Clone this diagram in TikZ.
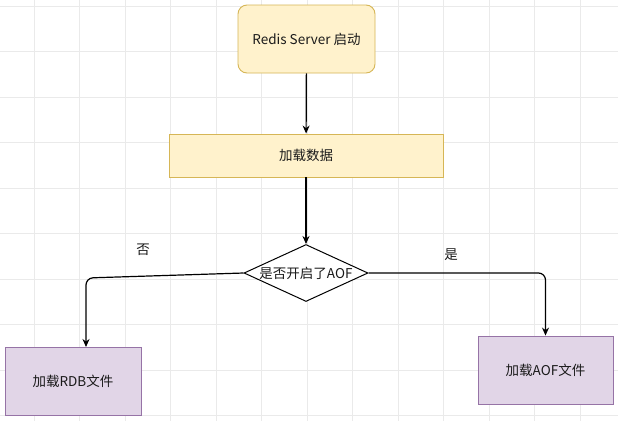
\documentclass[tikz,border=0pt]{standalone}
\usepackage{fontspec}
\setmainfont{Noto Sans CJK SC}
\usetikzlibrary{shapes.geometric,arrows.meta}
\definecolor{yfill}{HTML}{FFF2CC}
\definecolor{ydraw}{HTML}{D6B656}
\definecolor{pfill}{HTML}{E1D5E7}
\definecolor{pdraw}{HTML}{9673A6}
\definecolor{gridc}{HTML}{EAEAEA}
\definecolor{txt}{HTML}{1A1A1A}
\tikzset{
  x=1pt, y=1pt,
  ybox/.style={draw=ydraw, fill=yfill, line width=0.9pt, inner sep=0pt},
  pbox/.style={draw=pdraw, fill=pfill, line width=0.9pt, inner sep=0pt},
  dia/.style={diamond, draw=black, fill=white, line width=1pt, inner sep=0pt, aspect=2.2},
  lbl/.style={font=\fontsize{13.5}{15}\selectfont, text=txt},
  arr/.style={draw=black, line width=1.2pt, -{Stealth[length=8pt,width=7pt]}, rounded corners=7pt},
}
\begin{document}
\begin{tikzpicture}
\useasboundingbox (0,0) rectangle (618,-421);
\fill[white] (0,0) rectangle (618,-421);
% grid
\foreach \i in {0,...,13} {
  \draw[gridc, line width=0.7pt] ({34+45.5*\i},0) -- ({34+45.5*\i},-421);
}
\foreach \j in {0,...,9} {
  \draw[gridc, line width=0.7pt] (0,{-6-45.5*\j}) -- (618,{-6-45.5*\j});
}
% nodes
\node[ybox, rounded corners=9pt, minimum width=137pt, minimum height=68pt] (start) at (306.5,-39) {};
\node[lbl] at (start) {Redis Server 启动};
\node[ybox, minimum width=274pt, minimum height=43pt] (load) at (306,-155.5) {};
\node[lbl] at (load) {加载数据};
\node[dia, minimum width=124pt, minimum height=57pt] (d) at (306,-273) {};
\node[lbl] at (d) {是否开启了AOF};
\node[pbox, minimum width=136pt, minimum height=68pt] (rdb) at (73,-381) {};
\node[lbl] at (rdb) {加载RDB文件};
\node[pbox, minimum width=135pt, minimum height=68pt] (aof) at (545.5,-370) {};
\node[lbl] at (aof) {加载AOF文件};
\node[lbl] (no) at (143,-250) {否};
\node[lbl] (yes) at (451,-255) {是};
\coordinate (cl) at (86,-278);
\coordinate (rdbin) at (86,-347);
% connectors
\draw[arr] (start) -- (load);
\draw[arr] (load) -- (d);
\draw[arr] (d.west) -- (cl) -- (rdbin);
\draw[arr] (d.east) -| (aof.north);
\end{tikzpicture}
\end{document}
